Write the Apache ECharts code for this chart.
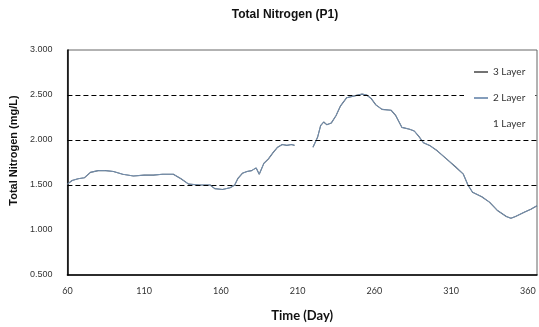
<!DOCTYPE html>
<html>
<head>
<meta charset="utf-8">
<script src="https://cdn.jsdelivr.net/npm/echarts@6/dist/echarts.min.js"></script>
<style>
html,body{margin:0;padding:0;background:#fff;}
#chart{width:539px;height:327px;}
</style>
</head>
<body>
<div id="chart"></div>
<script>
// Data
const days = [60,63,67,71,75,80,85,90,96,103,110,116,122,129,134,139,146,153,156,161,166,169,171,174,177,180,183,185,188,191,194,197,200,203,206,208,214,
  220,223,225,227,229,232,235,238,242,247,252,255,258,261,265,271,274,278,283,286,289,292,296,301,307,313,318,321,324,330,335,340,346,349,352,358,362,366];
const layer3 = [1.51,1.55,1.57,1.58,1.64,1.66,1.66,1.65,1.62,1.60,1.61,1.61,1.62,1.62,1.57,1.51,1.50,1.50,1.46,1.45,1.47,1.50,1.57,1.63,1.65,1.66,1.69,1.62,1.74,1.79,1.86,1.92,1.95,1.94,1.95,1.94,null,
  1.92,2.03,2.16,2.20,2.17,2.19,2.27,2.38,2.47,2.49,2.51,2.50,2.46,2.39,2.34,2.33,2.27,2.14,2.12,2.10,2.04,1.97,1.94,1.88,1.79,1.70,1.62,1.50,1.42,1.37,1.31,1.22,1.15,1.13,1.15,1.20,1.23,1.27];
const layer2 = layer3.slice();
const layer1 = [];
const seriesNames = ['3 Layer','2 Layer','1 Layer'];
const refLevels = [1.5, 2.0, 2.5];
const xTickLabels = [60,110,160,210,260,310,360];

const pairs = arr => days.map((d,i) => [d, arr[i] === undefined ? null : arr[i]]);

const chart = echarts.init(document.getElementById('chart'), null, {renderer:'canvas'});
chart.setOption({
  animation:false,
  backgroundColor:'#fff',
  title:{
    text:'Total Nitrogen (P1)',
    left:280, top:4, textAlign:'center',
    textStyle:{fontFamily:'Liberation Sans, Arial', fontWeight:'bold', fontSize:12, color:'#111'}
  },
  legend:{
    orient:'vertical',
    left:464, top:61,
    z:20,
    padding:[6,10,6,10],
    itemGap:16,
    itemWidth:14, itemHeight:1.5,
    icon:'rect',
    backgroundColor:'#fff',
    data:seriesNames,
    textStyle:{fontFamily:'Lato, Liberation Sans', fontSize:10, color:'#333'}
  },
  grid:{left:60, right:2, top:50, bottom:47, show:true, borderColor:'#666', borderWidth:1},
  xAxis:{
    type:'value', min:60, max:366, interval:10,
    name:'Time (Day)', nameLocation:'middle', nameGap:34,
    nameTextStyle:{fontFamily:'Lato, Liberation Sans', fontWeight:'bold', fontSize:13, color:'#111'},
    axisLine:{show:true, lineStyle:{color:'#000', width:1.5}},
    axisTick:{show:false},
    splitLine:{show:false},
    axisLabel:{
      margin:12, fontFamily:'Lato, Liberation Sans', fontSize:9, color:'#333',
      showMaxLabel:false,
      formatter: v => xTickLabels.indexOf(v) >= 0 ? String(v) : ''
    }
  },
  yAxis:{
    type:'value', min:0.5, max:3.0, interval:0.5,
    name:'Total Nitrogen (mg/L)', nameLocation:'middle', nameGap:43, nameRotate:90,
    nameTextStyle:{fontFamily:'Liberation Sans, Arial', fontWeight:'bold', fontSize:11, color:'#111', padding:[0,0,0,24]},
    axisLine:{show:true, lineStyle:{color:'#000', width:1.5}},
    axisTick:{show:false},
    splitLine:{show:false},
    axisLabel:{margin:15, fontFamily:'Liberation Sans, Arial', fontSize:9, color:'#333', formatter: v => v.toFixed(3)}
  },
  series:[
    {
      name:seriesNames[0], type:'line', data:pairs(layer3), showSymbol:false, connectNulls:false,
      lineStyle:{color:'#4a5868', width:1.1}, itemStyle:{color:'#444'},
      markLine:{
        silent:true, symbol:'none', label:{show:false},
        lineStyle:{color:'#000', type:[5,3], width:1},
        data: refLevels.map(v => ({yAxis:v}))
      }
    },
    {
      name:seriesNames[1], type:'line', data:pairs(layer2), showSymbol:false, connectNulls:false,
      lineStyle:{color:'#7f9dbf', width:0.8}, itemStyle:{color:'#5b7da5'}
    },
    {
      name:seriesNames[2], type:'line', data:layer1, showSymbol:false,
      lineStyle:{color:'rgba(0,0,0,0)', width:1}, itemStyle:{color:'rgba(0,0,0,0)'}
    }
  ]
});
</script>
</body>
</html>
